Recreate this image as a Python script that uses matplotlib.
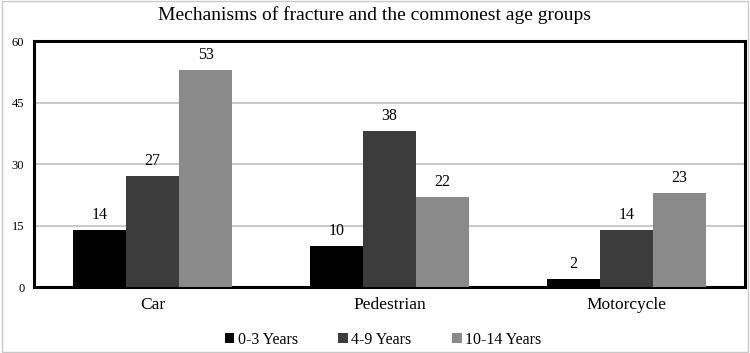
import matplotlib
matplotlib.use("Agg")
import matplotlib.pyplot as plt
import numpy as np

categories = ["Car", "Pedestrian", "Motorcycle"]
series_names = ["0-3 Years", "4-9 Years", "10-14 Years"]
vals_0_3 = [14, 10, 2]
vals_4_9 = [27, 38, 14]
vals_10_14 = [53, 22, 23]
yticks = [0, 15, 30, 45, 60]
colors = ["#000000", "#3c3c3c", "#8a8a8a"]

plt.rcParams['font.family'] = ['Liberation Serif', 'DejaVu Serif']

fig = plt.figure(figsize=(7.5, 3.53), dpi=100)
ax = fig.add_axes([34/750, 1-287/353, (745-34)/750, (287-41)/353])

x = np.arange(len(categories))
w = 0.224
allvals = [vals_0_3, vals_4_9, vals_10_14]
for i, (vals, name, c) in enumerate(zip(allvals, series_names, colors)):
    bars = ax.bar(x + (i-1)*w, vals, w, color=c, label=name, zorder=3)
    for b, v in zip(bars, vals):
        ax.text(b.get_x()+b.get_width()/2, v + 2.7, str(v), ha='center', va='baseline', fontsize=11.5)

ax.set_xlim(-0.5, 2.5)
ax.set_ylim(0, 60)
ax.set_yticks(yticks)
ax.set_yticklabels([str(t) for t in yticks], fontsize=9)
ax.set_xticks(x)
ax.set_xticklabels(categories, fontsize=12.5)
ax.tick_params(axis='both', length=0)
ax.tick_params(axis='y', pad=7)
ax.tick_params(axis='x', pad=7)
ax.grid(axis='y', color='#c0c0c0', linewidth=1.2, zorder=0)
for s in ax.spines.values():
    s.set_linewidth(2.2)
    s.set_color('black')

fig.text(0.5, 1-15/353, "Mechanisms of fracture and the commonest age groups", ha='center', va='center', fontsize=14)

fig.legend(loc='center', bbox_to_anchor=(383/750, 1-340/353), ncol=3, frameon=False,
           fontsize=11.5, handlelength=0.6, handleheight=0.6, handletextpad=0.2, columnspacing=2.55,
           borderpad=0.1)

border = plt.Rectangle((0.002, 0.003), 0.995, 0.994, transform=fig.transFigure, fill=False, edgecolor='#c8c8c8', linewidth=1)
fig.add_artist(border)

fig.savefig("out.png", dpi=100)
